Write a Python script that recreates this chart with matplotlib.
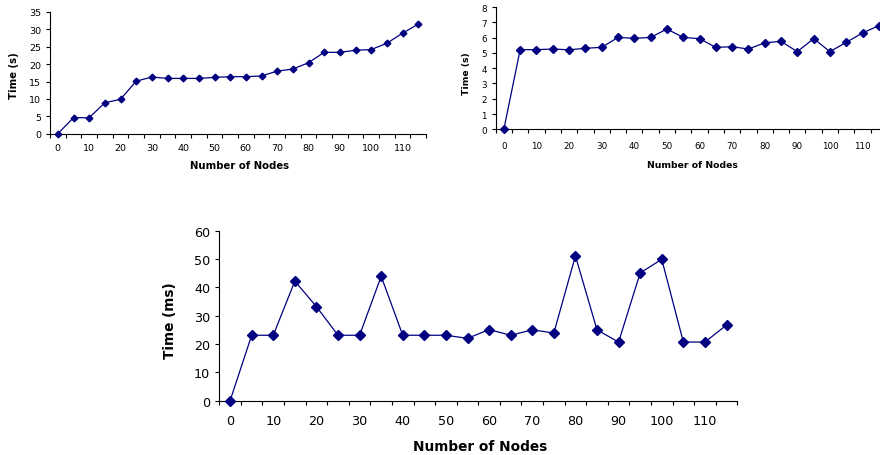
import matplotlib
matplotlib.use('Agg')
from matplotlib import pyplot as plt

plt.rcParams['font.family'] = ['DejaVu Sans']

nodes = [0, 5, 10, 15, 20, 25, 30, 35, 40, 45, 50, 55,
         60, 65, 70, 75, 80, 85, 90, 95, 100, 105, 110, 115]

# time in seconds, top left chart
time_a = [0, 4.6, 4.6, 8.9, 9.9, 15.1, 16.3, 15.9, 15.9, 15.9, 16.2, 16.4,
          16.4, 16.6, 18.0, 18.6, 20.4, 23.4, 23.4, 24.0, 24.2, 26.0, 28.9, 31.5]

# time in seconds, top right chart
time_b = [0, 5.21, 5.21, 5.25, 5.2, 5.3, 5.36, 6.01, 5.95, 6.01, 6.56, 6.01,
          5.93, 5.36, 5.4, 5.25, 5.66, 5.75, 5.08, 5.93, 5.08, 5.69, 6.3, 6.78]

# time in ms, bottom chart
time_c = [0, 23.1, 23.1, 42.2, 33.2, 23.1, 23.1, 43.9, 23.1, 23.1, 23.1, 22.0,
          25.1, 23.1, 25.0, 23.9, 51.1, 25.0, 20.7, 45.1, 49.9, 20.7, 20.7, 26.7]

NAVY = '#000080'
W, H = 880, 456


def box(left, top, right, bottom):
    return [left / W, 1 - bottom / H, (right - left) / W, (bottom - top) / H]


def excel_plot(fig, px, y, ymax, ystep, ylabel, fs, lfs, ms, xpad, ylab_px, xlab_px):
    left, top, right, bottom = px
    ax = fig.add_axes(box(left, top, right, bottom))
    idx = list(range(len(nodes)))
    ax.plot(idx, y, color=NAVY, lw=0.9, marker='D', ms=ms, mfc=NAVY, mec=NAVY,
            clip_on=False, zorder=5)
    ax.set_xlim(-0.5, len(nodes) - 0.5)
    ax.set_ylim(0, ymax)
    ax.spines['top'].set_visible(False)
    ax.spines['right'].set_visible(False)
    ax.spines['left'].set_linewidth(0.8)
    ax.spines['bottom'].set_linewidth(0.8)
    # ticks between categories, labels on every other category
    ax.set_xticks([i - 0.5 for i in range(len(nodes) + 1)])
    ax.set_xticklabels([])
    ax.set_xticks(idx[::2], minor=True)
    ax.set_xticklabels([str(n) for n in nodes[::2]], minor=True, fontsize=fs)
    ax.tick_params(axis='x', which='major', direction='out', length=3, width=0.8)
    ax.tick_params(axis='x', which='minor', length=0, pad=xpad)
    yt = list(range(0, ymax + 1, ystep))
    ax.set_yticks(yt)
    ax.set_yticklabels([str(v) for v in yt], fontsize=fs)
    ax.tick_params(axis='y', direction='out', length=3, width=0.8, pad=3.5)
    # axis titles placed by pixel centre
    fig.text(ylab_px[0] / W, 1 - ylab_px[1] / H, ylabel, rotation=90,
             ha='center', va='center', fontsize=lfs, fontweight='bold')
    fig.text(xlab_px[0] / W, 1 - xlab_px[1] / H, 'Number of Nodes',
             ha='center', va='center', fontsize=lfs, fontweight='bold')
    return ax


fig = plt.figure(figsize=(8.8, 4.56), dpi=100)

excel_plot(fig, (50, 13, 426, 134.7), time_a, 35, 5, 'Time (s)',
           6.8, 7.3, 3.4, 6.5, (14.3, 75.7), (240, 166))
excel_plot(fig, (495.7, 8, 887, 130.3), time_b, 8, 1, 'Time (s)',
           6.3, 6.7, 3.6, 8.2, (466, 74), (692, 165))
excel_plot(fig, (219.3, 231.7, 737.3, 401.7), time_c, 60, 10, 'Time (ms)',
           9.2, 9.8, 5.0, 9.5, (170, 320.7), (480, 447))

fig.savefig('out.png', dpi=100)
